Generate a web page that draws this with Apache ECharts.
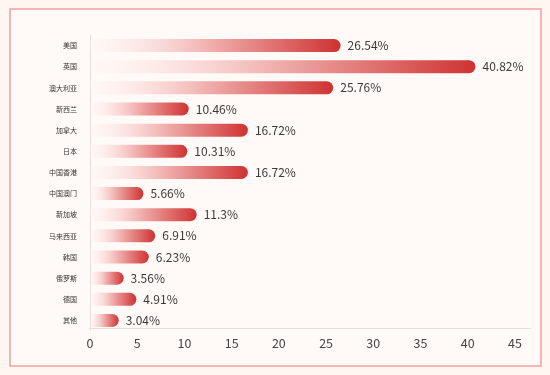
<!DOCTYPE html>
<html>
<head>
<meta charset="utf-8">
<script src="https://cdn.jsdelivr.net/npm/echarts@6/dist/echarts.min.js"></script>
<style>
html,body{margin:0;padding:0;background:#fff6f2;}
#c{width:550px;height:375px;}
</style>
</head>
<body>
<div id="c"></div>
<script>
var categories = ['美国','英国','澳大利亚','新西兰','加拿大','日本','中国香港','中国澳门','新加坡','马来西亚','韩国','俄罗斯','德国','其他'];
var shares = [26.54, 40.82, 25.76, 10.46, 16.72, 10.31, 16.72, 5.66, 11.3, 6.91, 6.23, 3.56, 4.91, 3.04];
var xTicks = [0, 5, 10, 15, 20, 25, 30, 35, 40, 45];

var chart = echarts.init(document.getElementById('c'));
var font = '"Noto Sans CJK SC", "Noto Sans", sans-serif';
chart.setOption({
  backgroundColor: '#fff6f2',
  animation: false,
  graphic: [{
    type: 'rect', z: -10, silent: true,
    shape: {x: 10, y: 9, width: 531, height: 357},
    style: {fill: '#fffaf7', stroke: '#efa29f', lineWidth: 1.5}
  }],
  grid: {left: 90, right: 19, top: 35, height: 296},
  xAxis: {
    type: 'value', min: 0, max: 46.7, interval: 5, offset: -3,
    axisLine: {show: true, lineStyle: {color: '#e4dedc', width: 1}},
    axisTick: {show: false},
    splitLine: {show: false},
    axisLabel: {
      color: '#444', fontSize: 12.5, fontFamily: font, margin: 9,
      formatter: function (v) { return xTicks.indexOf(v) >= 0 ? String(v) : ''; }
    }
  },
  yAxis: {
    type: 'category', inverse: true, data: categories,
    axisLine: {show: true, lineStyle: {color: '#e4dedc', width: 1}},
    axisTick: {show: false},
    axisLabel: {color: '#333', fontSize: 7, fontFamily: font, margin: 13}
  },
  series: [{
    type: 'bar', data: shares, barWidth: 13,
    itemStyle: {
      borderRadius: [0, 7, 7, 0],
      color: new echarts.graphic.LinearGradient(0, 0, 1, 0, [
        {offset: 0, color: 'rgba(255,240,240,0.2)'},
        {offset: 0.45, color: '#f2b6b4'},
        {offset: 1, color: '#cf3232'}
      ])
    },
    label: {
      show: true, position: 'right', distance: 7,
      color: '#3a3a3a', fontSize: 12, fontFamily: font,
      formatter: '{c}%'
    }
  }]
});
</script>
</body>
</html>
